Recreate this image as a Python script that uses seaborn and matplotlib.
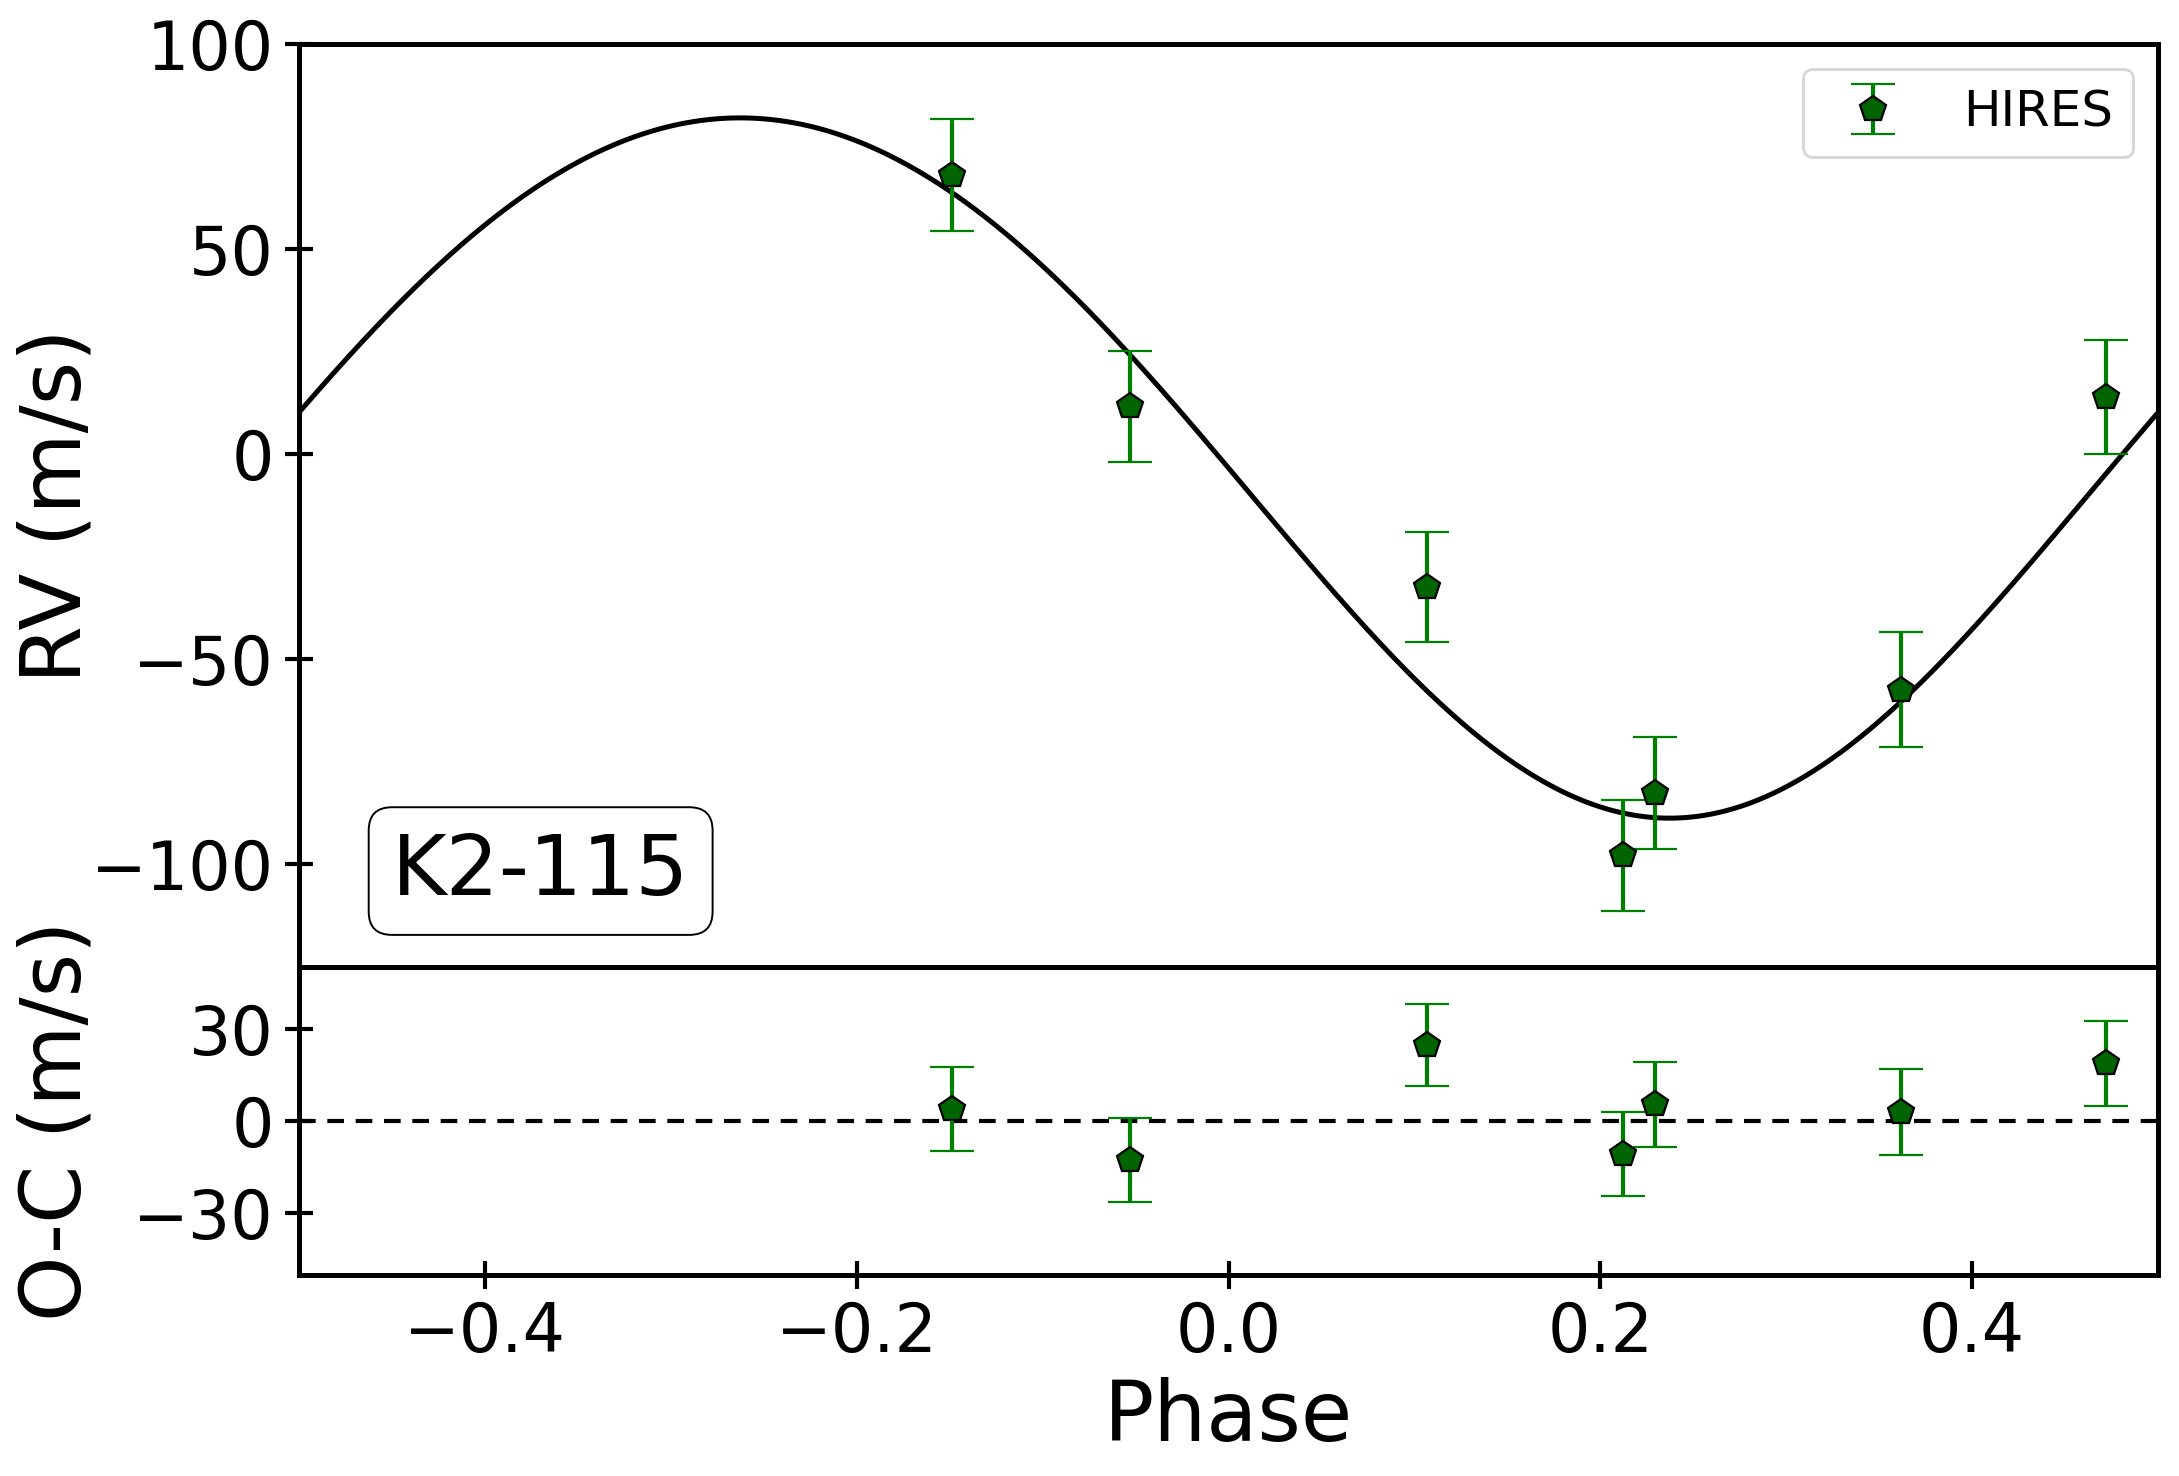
import numpy as np
import matplotlib
matplotlib.use("Agg")
import matplotlib.pyplot as plt
import seaborn as sns

# HIRES radial velocities folded on the orbital phase
phase = [-0.1487, -0.0531, 0.1066, 0.2120, 0.2296, 0.3615, 0.4722]
rv = [68.0, 11.6, -32.4, -97.8, -82.6, -57.4, 13.9]
rv_err = [13.7, 13.6, 13.3, 13.6, 13.7, 14.0, 13.8]
resid = [3.9, -12.7, 24.7, -10.8, 5.4, 3.0, 18.7]

# orbit model parameters
K = 85.3
ecc = 0.04
omega = np.pi
gamma = 0.0


def kepler_rv(ph):
    # phase 0 = time of transit
    nu_c = np.pi / 2 - omega
    E_c = 2 * np.arctan(np.sqrt((1 - ecc) / (1 + ecc)) * np.tan(nu_c / 2))
    M = E_c - ecc * np.sin(E_c) + 2 * np.pi * ph
    E = M.copy()
    for _ in range(30):
        E = E - (E - ecc * np.sin(E) - M) / (1 - ecc * np.cos(E))
    nu = 2 * np.arctan2(np.sqrt(1 + ecc) * np.sin(E / 2), np.sqrt(1 - ecc) * np.cos(E / 2))
    return K * (np.cos(nu + omega) + ecc * np.cos(omega)) + gamma


sns.set_style("ticks", {"axes.edgecolor": "black", "xtick.color": "black",
                        "ytick.color": "black", "text.color": "black",
                        "axes.labelcolor": "black"})
plt.rcParams['font.family'] = ['DejaVu Sans']

fig = plt.figure(figsize=(10.895, 7.38), dpi=200)
gs = fig.add_gridspec(2, 1, height_ratios=[3, 1], hspace=0,
                      left=0.1372, right=0.9904, top=0.9705, bottom=0.1362)
ax1 = fig.add_subplot(gs[0])
ax2 = fig.add_subplot(gs[1], sharex=ax1)

grid = np.linspace(-0.5, 0.5, 1000)
sns.lineplot(x=grid, y=kepler_rv(grid), ax=ax1, color='black', lw=1.8, sort=False)

pts = dict(fmt='p', mfc='darkgreen', mec='black', mew=0.8, ms=9.5,
           ecolor='green', elinewidth=1.5, capsize=8, capthick=1.5)
ax1.errorbar(phase, rv, yerr=rv_err, label='HIRES', **pts)
ax2.axhline(0, color='black', ls=(0, (4, 2.8)), lw=1.5)
ax2.errorbar(phase, resid, yerr=rv_err, **pts)

ax1.legend(loc='upper right', fontsize=18)
ax1.text(0.13, 0.104, 'K2-115', transform=ax1.transAxes, fontsize=30,
         ha='center', va='center',
         bbox=dict(boxstyle='round,pad=0.28', fc='white', ec='black', lw=0.7))

ax1.set_xlim(-0.5, 0.5)
ax1.set_ylim(-125, 100)
ax1.set_yticks([100, 50, 0, -50, -100])
ax2.set_ylim(-50, 50)
ax2.set_yticks([30, 0, -30])
ax2.set_xticks([-0.4, -0.2, 0.0, 0.2, 0.4])

for ax in (ax1, ax2):
    ax.tick_params(direction='inout', length=10, width=1.5, labelsize=24, pad=4)
    for sp in ax.spines.values():
        sp.set_linewidth(1.8)
ax1.tick_params(axis='x', bottom=False, labelbottom=False)

ax1.set_ylabel('RV (m/s)', fontsize=30, labelpad=-2.5)
ax2.set_ylabel('O-C (m/s)', fontsize=30, labelpad=-2.5)
ax2.set_xlabel('Phase', fontsize=30)
fig.align_ylabels([ax1, ax2])

fig.savefig('out.png', dpi=200)
